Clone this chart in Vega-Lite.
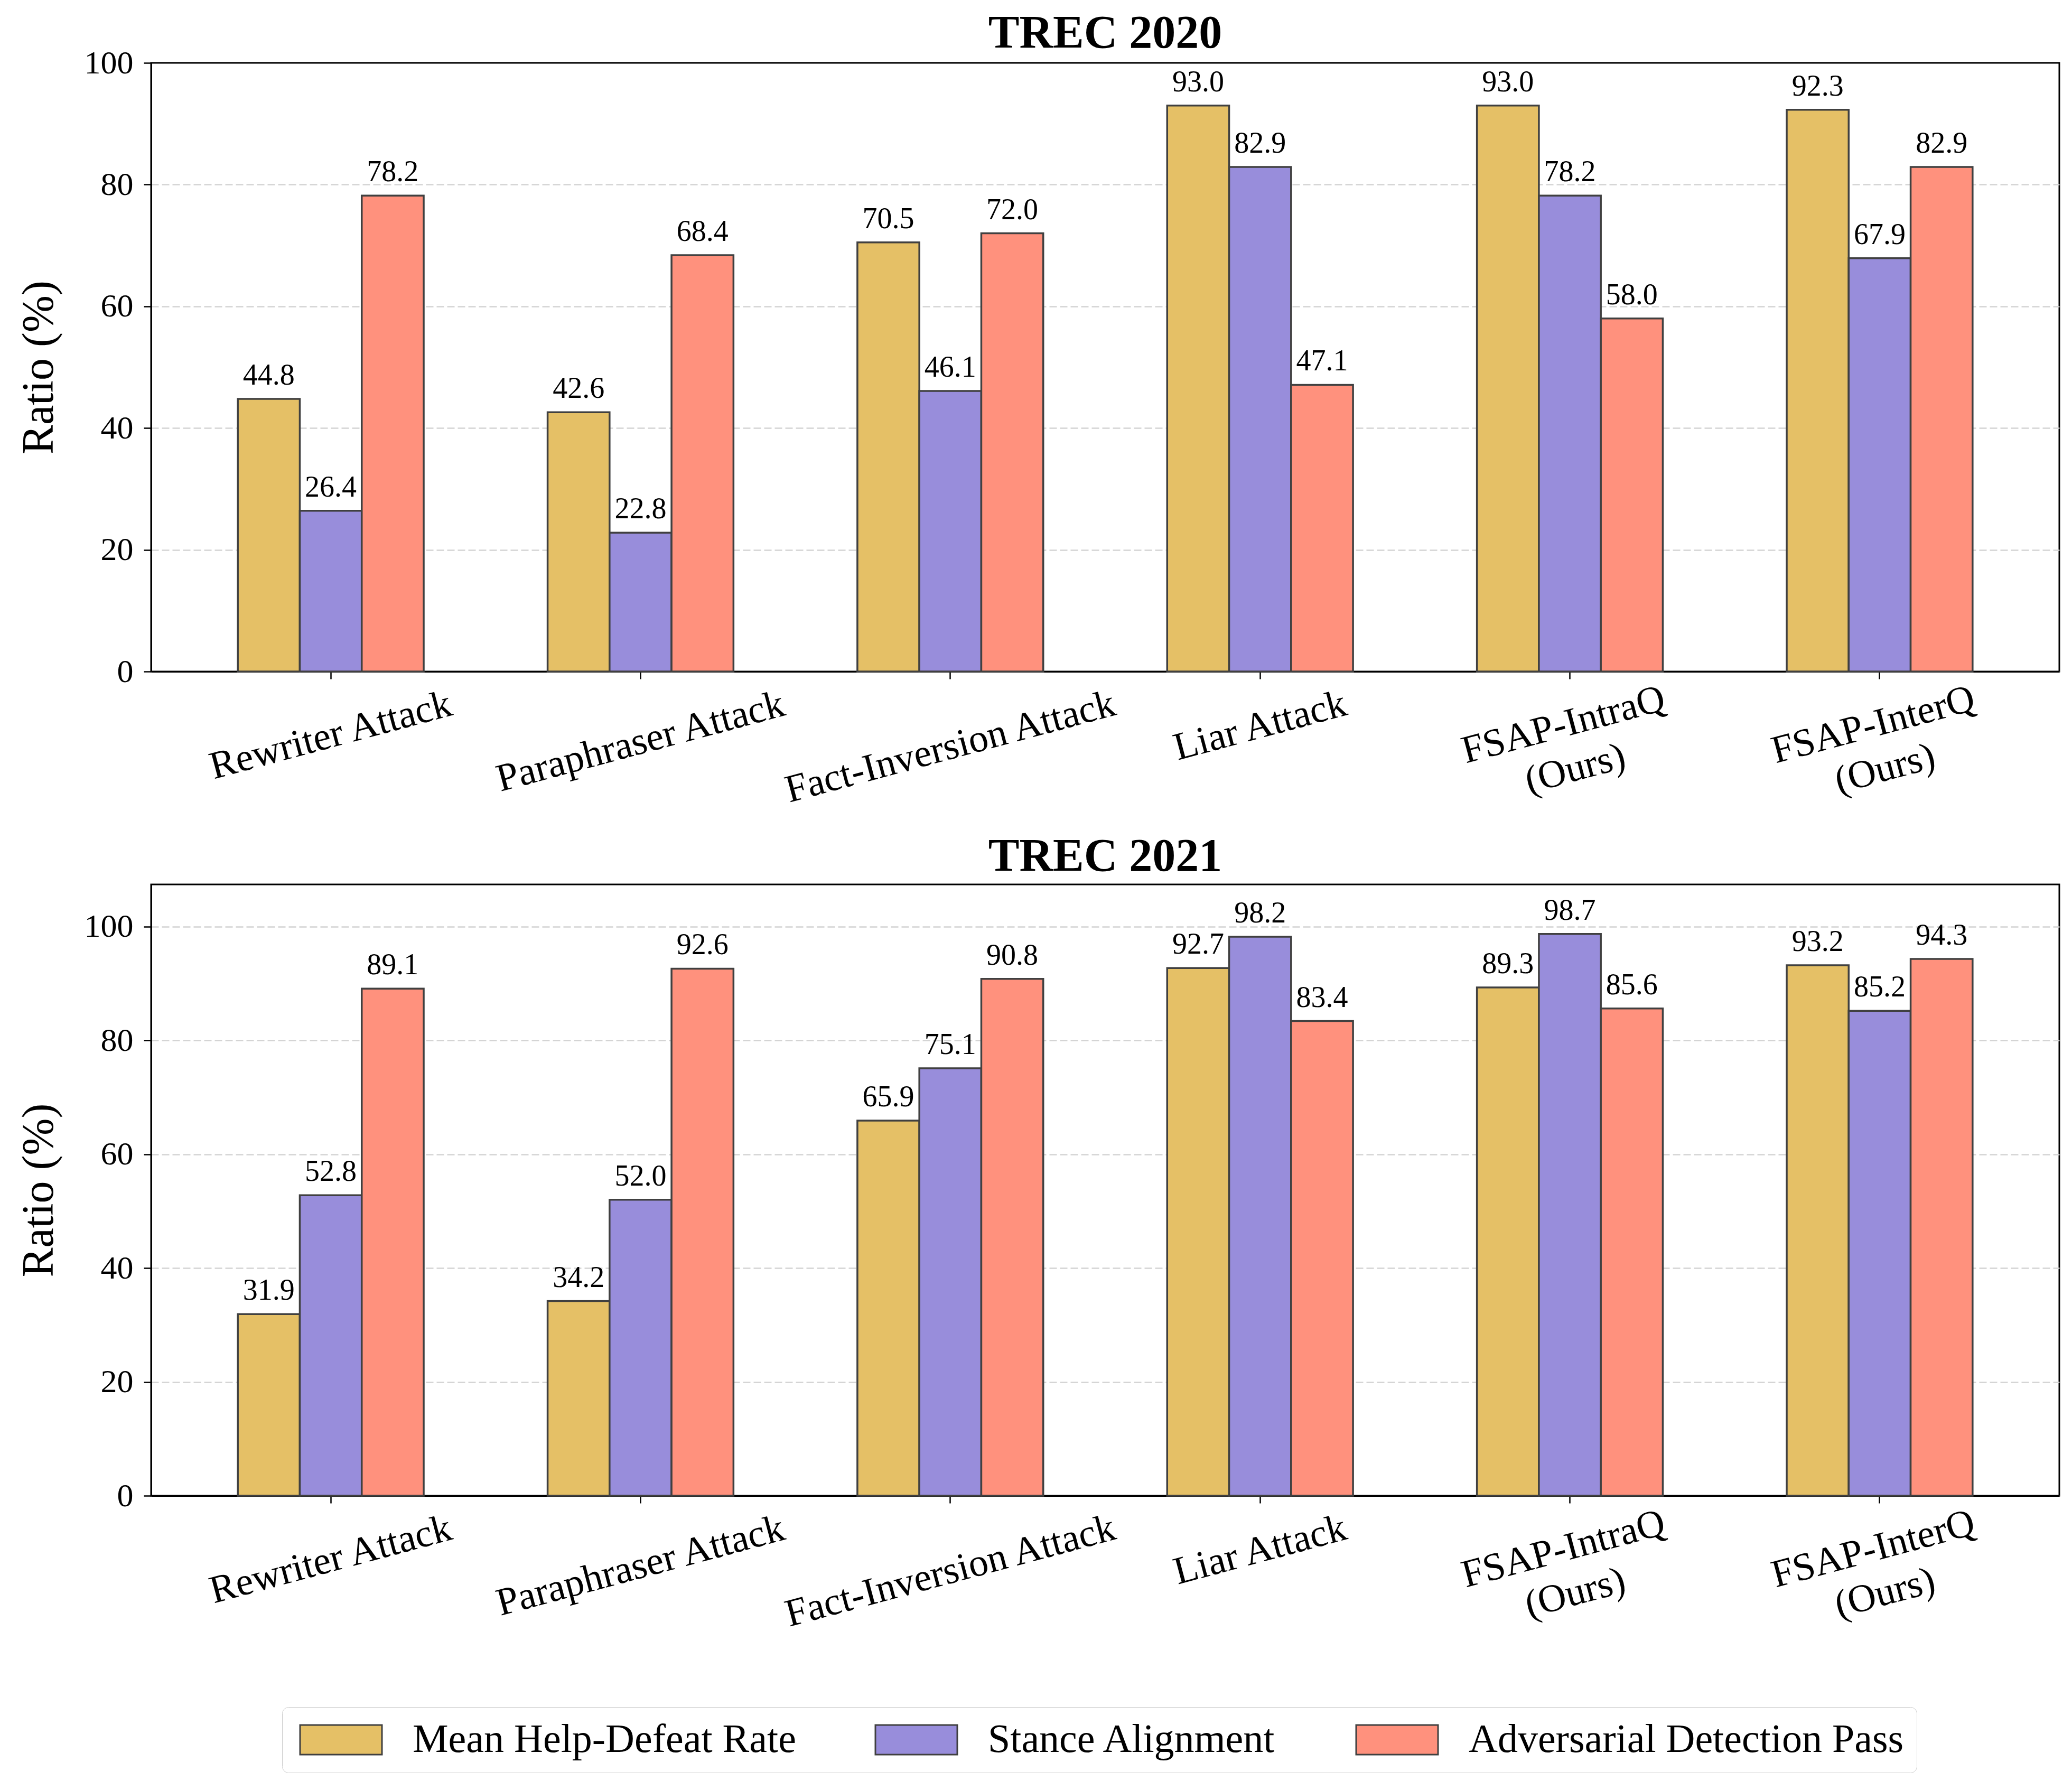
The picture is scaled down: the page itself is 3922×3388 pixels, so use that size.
{
  "$schema": "https://vega.github.io/schema/vega-lite/v6.json",
  "padding": {"left": 30, "top": 18, "right": 30, "bottom": 20},
  "background": "white",
  "bounds": "flush",
  "spacing": 403,
  "config": {
    "font": "Liberation Serif",
    "view": {"stroke": "black", "strokeWidth": 3},
    "axis": {
      "domainColor": "black", "domainWidth": 3,
      "tickColor": "black", "tickWidth": 2.5, "tickSize": 14,
      "labelColor": "black", "titleColor": "black",
      "labelFont": "Liberation Serif", "titleFont": "Liberation Serif"
    },
    "title": {"font": "Liberation Serif", "fontSize": 88, "fontWeight": "bold", "color": "black", "baseline": "alphabetic", "frame": "group"}
  },
  "data": {
    "values": [
      {"dataset": "TREC 2020", "method": "Rewriter Attack", "metric": "Mean Help-Defeat Rate", "value": 44.8},
      {"dataset": "TREC 2020", "method": "Rewriter Attack", "metric": "Stance Alignment", "value": 26.4},
      {"dataset": "TREC 2020", "method": "Rewriter Attack", "metric": "Adversarial Detection Pass", "value": 78.2},
      {"dataset": "TREC 2020", "method": "Paraphraser Attack", "metric": "Mean Help-Defeat Rate", "value": 42.6},
      {"dataset": "TREC 2020", "method": "Paraphraser Attack", "metric": "Stance Alignment", "value": 22.8},
      {"dataset": "TREC 2020", "method": "Paraphraser Attack", "metric": "Adversarial Detection Pass", "value": 68.4},
      {"dataset": "TREC 2020", "method": "Fact-Inversion Attack", "metric": "Mean Help-Defeat Rate", "value": 70.5},
      {"dataset": "TREC 2020", "method": "Fact-Inversion Attack", "metric": "Stance Alignment", "value": 46.1},
      {"dataset": "TREC 2020", "method": "Fact-Inversion Attack", "metric": "Adversarial Detection Pass", "value": 72.0},
      {"dataset": "TREC 2020", "method": "Liar Attack", "metric": "Mean Help-Defeat Rate", "value": 93.0},
      {"dataset": "TREC 2020", "method": "Liar Attack", "metric": "Stance Alignment", "value": 82.9},
      {"dataset": "TREC 2020", "method": "Liar Attack", "metric": "Adversarial Detection Pass", "value": 47.1},
      {"dataset": "TREC 2020", "method": "FSAP-IntraQ (Ours)", "metric": "Mean Help-Defeat Rate", "value": 93.0},
      {"dataset": "TREC 2020", "method": "FSAP-IntraQ (Ours)", "metric": "Stance Alignment", "value": 78.2},
      {"dataset": "TREC 2020", "method": "FSAP-IntraQ (Ours)", "metric": "Adversarial Detection Pass", "value": 58.0},
      {"dataset": "TREC 2020", "method": "FSAP-InterQ (Ours)", "metric": "Mean Help-Defeat Rate", "value": 92.3},
      {"dataset": "TREC 2020", "method": "FSAP-InterQ (Ours)", "metric": "Stance Alignment", "value": 67.9},
      {"dataset": "TREC 2020", "method": "FSAP-InterQ (Ours)", "metric": "Adversarial Detection Pass", "value": 82.9},
      {"dataset": "TREC 2021", "method": "Rewriter Attack", "metric": "Mean Help-Defeat Rate", "value": 31.9},
      {"dataset": "TREC 2021", "method": "Rewriter Attack", "metric": "Stance Alignment", "value": 52.8},
      {"dataset": "TREC 2021", "method": "Rewriter Attack", "metric": "Adversarial Detection Pass", "value": 89.1},
      {"dataset": "TREC 2021", "method": "Paraphraser Attack", "metric": "Mean Help-Defeat Rate", "value": 34.2},
      {"dataset": "TREC 2021", "method": "Paraphraser Attack", "metric": "Stance Alignment", "value": 52.0},
      {"dataset": "TREC 2021", "method": "Paraphraser Attack", "metric": "Adversarial Detection Pass", "value": 92.6},
      {"dataset": "TREC 2021", "method": "Fact-Inversion Attack", "metric": "Mean Help-Defeat Rate", "value": 65.9},
      {"dataset": "TREC 2021", "method": "Fact-Inversion Attack", "metric": "Stance Alignment", "value": 75.1},
      {"dataset": "TREC 2021", "method": "Fact-Inversion Attack", "metric": "Adversarial Detection Pass", "value": 90.8},
      {"dataset": "TREC 2021", "method": "Liar Attack", "metric": "Mean Help-Defeat Rate", "value": 92.7},
      {"dataset": "TREC 2021", "method": "Liar Attack", "metric": "Stance Alignment", "value": 98.2},
      {"dataset": "TREC 2021", "method": "Liar Attack", "metric": "Adversarial Detection Pass", "value": 83.4},
      {"dataset": "TREC 2021", "method": "FSAP-IntraQ (Ours)", "metric": "Mean Help-Defeat Rate", "value": 89.3},
      {"dataset": "TREC 2021", "method": "FSAP-IntraQ (Ours)", "metric": "Stance Alignment", "value": 98.7},
      {"dataset": "TREC 2021", "method": "FSAP-IntraQ (Ours)", "metric": "Adversarial Detection Pass", "value": 85.6},
      {"dataset": "TREC 2021", "method": "FSAP-InterQ (Ours)", "metric": "Mean Help-Defeat Rate", "value": 93.2},
      {"dataset": "TREC 2021", "method": "FSAP-InterQ (Ours)", "metric": "Stance Alignment", "value": 85.2},
      {"dataset": "TREC 2021", "method": "FSAP-InterQ (Ours)", "metric": "Adversarial Detection Pass", "value": 94.3}
    ]
  },
  "resolve": {"scale": {"color": "shared"}},
  "vconcat": [
    {
      "title": {"text": "TREC 2020", "offset": -20},
      "width": 3612,
      "height": 1152,
      "transform": [{"filter": "datum.dataset === 'TREC 2020'"}],
      "encoding": {
        "x": {
          "field": "method", "type": "nominal",
          "sort": ["Rewriter Attack", "Paraphraser Attack", "Fact-Inversion Attack", "Liar Attack", "FSAP-IntraQ (Ours)", "FSAP-InterQ (Ours)"],
          "scale": {"paddingInner": 0.4, "paddingOuter": 0.28},
          "axis": {
            "title": null, "grid": false, "labelFontSize": 74, "labelAngle": -15,
            "labelAlign": "center", "labelBaseline": "middle", "labelLimit": 0, "labelLineHeight": 86,
            "labelExpr": "indexof(datum.label, ' (Ours)') > 0 ? [replace(datum.label, ' (Ours)', ''), '(Ours)'] : datum.label",
            "labelPadding": {"condition": [
              {"test": "datum.value === 'Liar Attack'", "value": 89},
              {"test": "datum.value === 'Paraphraser Attack'", "value": 119},
              {"test": "datum.value === 'Fact-Inversion Attack'", "value": 129},
              {"test": "indexof(datum.value, 'FSAP') === 0", "value": 87}
            ], "value": 107},
            "labelOffset": {"condition": {"test": "indexof(datum.value, 'FSAP') === 0", "value": -12}, "value": 0}
          }
        },
        "xOffset": {
          "field": "metric", "type": "nominal",
          "sort": ["Mean Help-Defeat Rate", "Stance Alignment", "Adversarial Detection Pass"],
          "scale": {"paddingInner": 0, "paddingOuter": 0}
        },
        "y": {
          "field": "value", "type": "quantitative",
          "scale": {"domain": [0, 100], "nice": false},
          "axis": {
            "title": "Ratio (%)", "titleFontSize": 84, "titleFontWeight": "normal", "titlePadding": 42,
            "labelFontSize": 62, "labelPadding": 20, "values": [0, 20, 40, 60, 80, 100],
            "grid": true, "gridColor": "#d3d3d3", "gridDash": [14, 6], "gridWidth": 2.5,
            "gridOpacity": {"condition": {"test": "datum.value === 100", "value": 0}, "value": 1}
          }
        }
      },
      "layer": [
        {
          "mark": {"type": "bar", "stroke": "#404040", "strokeWidth": 3.5},
          "encoding": {
            "color": {
              "field": "metric", "type": "nominal",
              "scale": {"domain": ["Mean Help-Defeat Rate", "Stance Alignment", "Adversarial Detection Pass"], "range": ["#E5C066", "#988DDB", "#FF917D"]},
              "legend": {
                "title": null, "orient": "none", "legendX": 248, "legendY": 3112, "direction": "horizontal",
                "symbolType": "M-1,-1H4.536V1H-1Z", "symbolSize": 3136, "symbolStrokeColor": "#404040", "symbolStrokeWidth": 3,
                "symbolOpacity": 1, "labelFontSize": 76, "labelFont": "Liberation Serif", "labelColor": "black",
                "labelOffset": 147, "columnPadding": 140, "padding": 24, "strokeColor": "#cccccc", "cornerRadius": 12, "labelLimit": 0
              }
            }
          }
        },
        {
          "mark": {"type": "text", "baseline": "alphabetic", "dy": -27, "fontSize": 56, "color": "black"},
          "encoding": {"text": {"field": "value", "type": "quantitative", "format": ".1f"}}
        }
      ]
    },
    {
      "title": {"text": "TREC 2021", "offset": 8},
      "width": 3612,
      "height": 1157,
      "transform": [{"filter": "datum.dataset === 'TREC 2021'"}],
      "encoding": {
        "x": {
          "field": "method", "type": "nominal",
          "sort": ["Rewriter Attack", "Paraphraser Attack", "Fact-Inversion Attack", "Liar Attack", "FSAP-IntraQ (Ours)", "FSAP-InterQ (Ours)"],
          "scale": {"paddingInner": 0.4, "paddingOuter": 0.28},
          "axis": {
            "title": null, "grid": false, "labelFontSize": 74, "labelAngle": -15,
            "labelAlign": "center", "labelBaseline": "middle", "labelLimit": 0, "labelLineHeight": 86,
            "labelExpr": "indexof(datum.label, ' (Ours)') > 0 ? [replace(datum.label, ' (Ours)', ''), '(Ours)'] : datum.label",
            "labelPadding": {"condition": [
              {"test": "datum.value === 'Liar Attack'", "value": 89},
              {"test": "datum.value === 'Paraphraser Attack'", "value": 119},
              {"test": "datum.value === 'Fact-Inversion Attack'", "value": 129},
              {"test": "indexof(datum.value, 'FSAP') === 0", "value": 87}
            ], "value": 107},
            "labelOffset": {"condition": {"test": "indexof(datum.value, 'FSAP') === 0", "value": -12}, "value": 0}
          }
        },
        "xOffset": {
          "field": "metric", "type": "nominal",
          "sort": ["Mean Help-Defeat Rate", "Stance Alignment", "Adversarial Detection Pass"],
          "scale": {"paddingInner": 0, "paddingOuter": 0}
        },
        "y": {
          "field": "value", "type": "quantitative",
          "scale": {"domain": [0, 107.4], "nice": false},
          "axis": {
            "title": "Ratio (%)", "titleFontSize": 84, "titleFontWeight": "normal", "titlePadding": 42,
            "labelFontSize": 62, "labelPadding": 20, "values": [0, 20, 40, 60, 80, 100],
            "grid": true, "gridColor": "#d3d3d3", "gridDash": [14, 6], "gridWidth": 2.5
          }
        }
      },
      "layer": [
        {
          "mark": {"type": "bar", "stroke": "#404040", "strokeWidth": 3.5},
          "encoding": {
            "color": {
              "field": "metric", "type": "nominal",
              "scale": {"domain": ["Mean Help-Defeat Rate", "Stance Alignment", "Adversarial Detection Pass"], "range": ["#E5C066", "#988DDB", "#FF917D"]},
              "legend": {
                "title": null, "orient": "none", "legendX": 248, "legendY": 3112, "direction": "horizontal",
                "symbolType": "M-1,-1H4.536V1H-1Z", "symbolSize": 3136, "symbolStrokeColor": "#404040", "symbolStrokeWidth": 3,
                "symbolOpacity": 1, "labelFontSize": 76, "labelFont": "Liberation Serif", "labelColor": "black",
                "labelOffset": 147, "columnPadding": 140, "padding": 24, "strokeColor": "#cccccc", "cornerRadius": 12, "labelLimit": 0
              }
            }
          }
        },
        {
          "mark": {"type": "text", "baseline": "alphabetic", "dy": -27, "fontSize": 56, "color": "black"},
          "encoding": {"text": {"field": "value", "type": "quantitative", "format": ".1f"}}
        }
      ]
    }
  ]
}
